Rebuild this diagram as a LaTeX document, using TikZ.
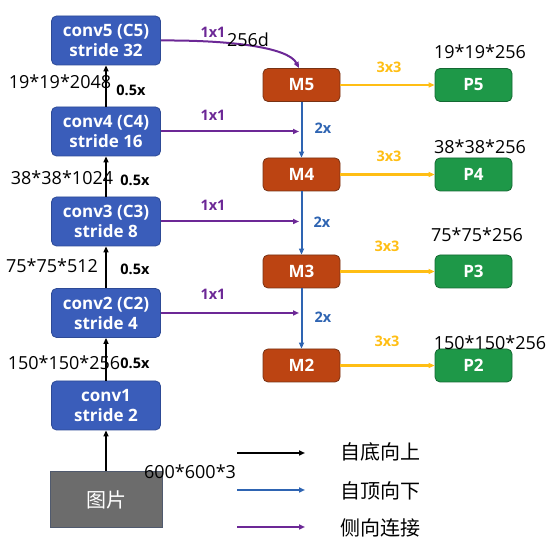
\documentclass[tikz,border=0pt]{standalone}
\usepackage{fontspec}
\setmainfont{Open Sans}
\newfontfamily\cjk{Noto Sans CJK SC}
\usetikzlibrary{arrows.meta}
\definecolor{convblue}{RGB}{58,93,186}
\definecolor{convedge}{RGB}{45,74,150}
\definecolor{mbrown}{RGB}{188,68,18}
\definecolor{medge}{RGB}{120,50,20}
\definecolor{pgreen}{RGB}{30,152,72}
\definecolor{pedge}{RGB}{20,105,50}
\definecolor{imggray}{RGB}{108,108,108}
\definecolor{imgedge}{RGB}{80,90,110}
\definecolor{arrorange}{RGB}{255,190,20}
\definecolor{arrblue}{RGB}{46,100,178}
\definecolor{arrpurple}{RGB}{108,40,150}
\begin{document}
\begin{tikzpicture}[x=1pt,y=-1pt,
  box/.style={rounded corners=5pt, align=center, text=white, inner sep=0pt,
    font=\bfseries\fontsize{17}{20}\selectfont},
  conv/.style={box, fill=convblue, draw=convedge, line width=0.8pt, minimum width=109pt, minimum height=49pt},
  mbox/.style={box, fill=mbrown, draw=medge, line width=0.8pt, minimum width=77pt, minimum height=33pt},
  pbox/.style={box, fill=pgreen, draw=pedge, line width=0.8pt, minimum width=77pt, minimum height=33pt},
  tip/.style={-{Triangle[length=6pt,width=5pt]}},
  uparr/.style={tip, draw=black, line width=2.3pt},
  downarr/.style={tip, draw=arrblue, line width=2pt},
  latarr/.style={tip, draw=arrpurple, line width=2pt},
  outarr/.style={tip, draw=arrorange, line width=2.3pt},
  dim/.style={font=\fontsize{18}{18}\selectfont, text=black, inner sep=0pt},
  small/.style={font=\bfseries\fontsize{14.5}{14.5}\selectfont, inner sep=0pt},
  legtext/.style={font=\cjk\fontsize{20}{20}\selectfont, inner sep=0pt}
]
\useasboundingbox (0,0) rectangle (558,553);

% bottom-up backbone
\node[conv] (c5) at (106,40.5) {conv5 (C5)\\stride 32};
\node[conv] (c4) at (106,131.5) {conv4 (C4)\\stride 16};
\node[conv] (c3) at (106,221.5) {conv3 (C3)\\stride 8};
\node[conv] (c2) at (106,313) {conv2 (C2)\\stride 4};
\node[conv] (c1) at (106,405.5) {conv1\\stride 2};
\node[fill=imggray, draw=imgedge, line width=0.8pt, minimum width=112pt, minimum height=56pt,
      inner sep=0pt, text=white, font=\cjk\fontsize{20}{20}\selectfont] (img) at (106,499.5) {图片};

\draw[uparr] (img) -- (c1);
\draw[uparr] (c1) -- (c2);
\draw[uparr] (c2) -- (c3);
\draw[uparr] (c3) -- (c4);
\draw[uparr] (c4) -- (c5);

% M boxes
\node[mbox] (m5) at (301.5,85) {M5};
\node[mbox] (m4) at (301.5,174.5) {M4};
\node[mbox] (m3) at (301.5,271.5) {M3};
\node[mbox] (m2) at (301.5,365.5) {M2};

% P boxes
\node[pbox] (p5) at (473.5,85) {P5};
\node[pbox] (p4) at (473.5,174.5) {P4};
\node[pbox] (p3) at (473.5,271.5) {P3};
\node[pbox] (p2) at (473.5,365.5) {P2};

% top-down
\draw[downarr] (m5) -- (m4);
\draw[downarr] (m4) -- (m3);
\draw[downarr] (m3) -- (m2);

% outputs
\draw[outarr] (m5) -- (p5);
\draw[outarr] (m4) -- (p4);
\draw[outarr] (m3) -- (p3);
\draw[outarr] (m2) -- (p2);

% lateral
\coordinate (t5) at (299,68);
\coordinate (t4) at (299,131.5);
\coordinate (t3) at (299,221.5);
\coordinate (t2) at (299,313);
\draw[latarr] (c5.east) .. controls (228,40) and (288,47) .. (t5);
\draw[latarr] (c4.east) -- (t4);
\draw[latarr] (c3.east) -- (t3);
\draw[latarr] (c2.east) -- (t2);

% lateral labels
\node[small, text=arrpurple] (l5) at (213,32) {1x1};
\node[small, text=arrpurple] (l4) at (213,115) {1x1};
\node[small, text=arrpurple] (l3) at (213,205) {1x1};
\node[small, text=arrpurple] (l2) at (213,294) {1x1};
\node[dim] (d256) at (248,40) {256d};

% top-down labels
\node[small, text=arrblue] (u5) at (323,128) {2x};
\node[small, text=arrblue] (u4) at (322,222) {2x};
\node[small, text=arrblue] (u3) at (323,317) {2x};

% output labels
\node[small, text=arrorange] (o5) at (389,67) {3x3};
\node[small, text=arrorange] (o4) at (389,156) {3x3};
\node[small, text=arrorange] (o3) at (387,246) {3x3};
\node[small, text=arrorange] (o2) at (387,341) {3x3};

% bottom-up labels
\node[small] (h5) at (131,90) {0.5x};
\node[small] (h4) at (135,180) {0.5x};
\node[small] (h3) at (135,269) {0.5x};
\node[small] (h2) at (135,363) {0.5x};

% dimension labels
\node[dim] (s5) at (60,82) {19*19*2048};
\node[dim] (s4) at (62,178) {38*38*1024};
\node[dim] (s3) at (52,266) {75*75*512};
\node[dim] (s2) at (64,363) {150*150*256};
\node[dim] (s1) at (190,472) {600*600*3};
\node[dim] (q5) at (480,52) {19*19*256};
\node[dim] (q4) at (480,147) {38*38*256};
\node[dim] (q3) at (477,235) {75*75*256};
\node[dim] (q2) at (490,343) {150*150*256};

% legend
\coordinate (a1) at (237,453);
\coordinate (b1) at (305,453);
\coordinate (a2) at (237,490);
\coordinate (b2) at (305,490);
\coordinate (a3) at (237,527);
\coordinate (b3) at (305,527);
\draw[tip, draw=black, line width=2pt] (a1) -- (b1);
\draw[downarr] (a2) -- (b2);
\draw[latarr] (a3) -- (b3);
\node[legtext] (g1) at (380,452) {自底向上};
\node[legtext] (g2) at (380,491) {自顶向下};
\node[legtext] (g3) at (380,528) {侧向连接};
\end{tikzpicture}
\end{document}
